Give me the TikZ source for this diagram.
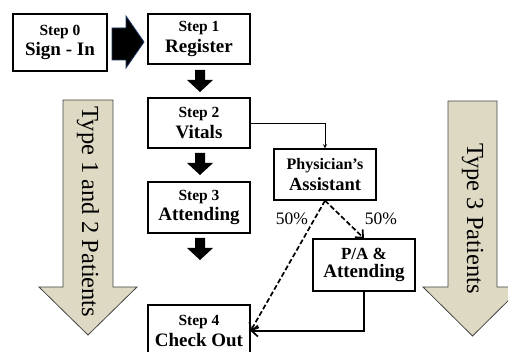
\documentclass[tikz,border=0pt]{standalone}
\usepackage{fontspec}
\setmainfont{Liberation Serif}
\usetikzlibrary{arrows.meta}
\definecolor{tanfill}{RGB}{221,217,195}
\definecolor{tanedge}{RGB}{70,70,70}
\definecolor{navyedge}{RGB}{31,56,100}
\newcommand{\steptext}[4]{{\fontsize{#1}{#1}\selectfont #2}\\[3pt]{\fontsize{#3}{#3}\selectfont #4}}

\begin{document}
\begin{tikzpicture}[x=1pt,y=-1pt,>=stealth,
  stepbox/.style={draw,line width=1.2pt,fill=white,align=center,inner sep=0pt,
    minimum width=102pt,minimum height=51pt,font=\bfseries},
  flow/.style={line width=1.7pt,-{Straight Barb[length=6pt,width=11pt,line width=1.7pt]}},
  split/.style={flow,dash pattern=on 5pt off 2.5pt},
  bigarrow/.style={fill=tanfill,draw=tanedge,line width=0.8pt},
  blockarrow/.style={fill=black}]
  \useasboundingbox (0,0) rectangle (508,352);
  % patient type arrows
  \draw[bigarrow] (63,100) -- (113,100) -- (113,287) -- (137,287) -- (88,335)
    -- (39,287) -- (63,287) -- cycle;
  \draw[bigarrow] (448,101) -- (497,101) -- (497,287) -- (522,287) -- (472.5,336)
    -- (423,287) -- (448,287) -- cycle;
  \node[rotate=-90,font=\fontsize{24.5}{24.5}\selectfont] (typea) at (88,212) {Type 1 and 2 Patients};
  \node[rotate=-90,font=\fontsize{24.5}{24.5}\selectfont] (typeb) at (472.5,218.5) {Type 3 Patients};
  % steps
  \node[stepbox,minimum width=94pt,minimum height=57pt] (s0) at (60,42.5) {\steptext{15.5}{Step 0}{19}{Sign - In}};
  \node[stepbox,minimum height=50pt] (s1) at (199,39) {\steptext{15.5}{Step 1}{19}{Register}};
  \node[stepbox,minimum height=50pt] (s2) at (199,123) {\steptext{15.5}{Step 2}{19}{Vitals}};
  \node[stepbox] (s3) at (199,207.5) {\steptext{15.5}{Step 3}{19}{Attending}};
  \node[stepbox,minimum height=52pt] (s4) at (199,331) {\steptext{15.5}{Step 4}{19}{Check Out}};
  \node[stepbox] (pa) at (325,174.5) {\steptext{16}{Physician's}{18.5}{Assistant}};
  \node[stepbox,minimum height=52pt] (paatt) at (364,265) {\steptext{17}{P/A \&}{19}{Attending}};
  % block arrows
  \draw[blockarrow,draw=navyedge,line width=0.8pt] (112,28) -- (126,28) -- (126,16) -- (144,42)
    -- (126,68) -- (126,60) -- (112,60) -- cycle;
  \foreach \y in {70,153,238}
    \fill (195,\y) -- (205,\y) -- (205,\y+10) -- (213,\y+10) -- (200,\y+22)
      -- (187,\y+10) -- (195,\y+10) -- cycle;
  % connectors
  \draw[->,line width=0.9pt] (s2.east) -| (pa.north);
  \draw[split] (pa.south) -- (paatt.north);
  \draw[split] (pa.south) -- (s4.east);
  \draw[flow] (paatt.south) |- (s4.east);
  \node[font=\fontsize{17.5}{17.5}\selectfont] (pleft) at (292,219) {50\%};
  \node[font=\fontsize{17.5}{17.5}\selectfont] (pright) at (381,219) {50\%};
\end{tikzpicture}
\end{document}
